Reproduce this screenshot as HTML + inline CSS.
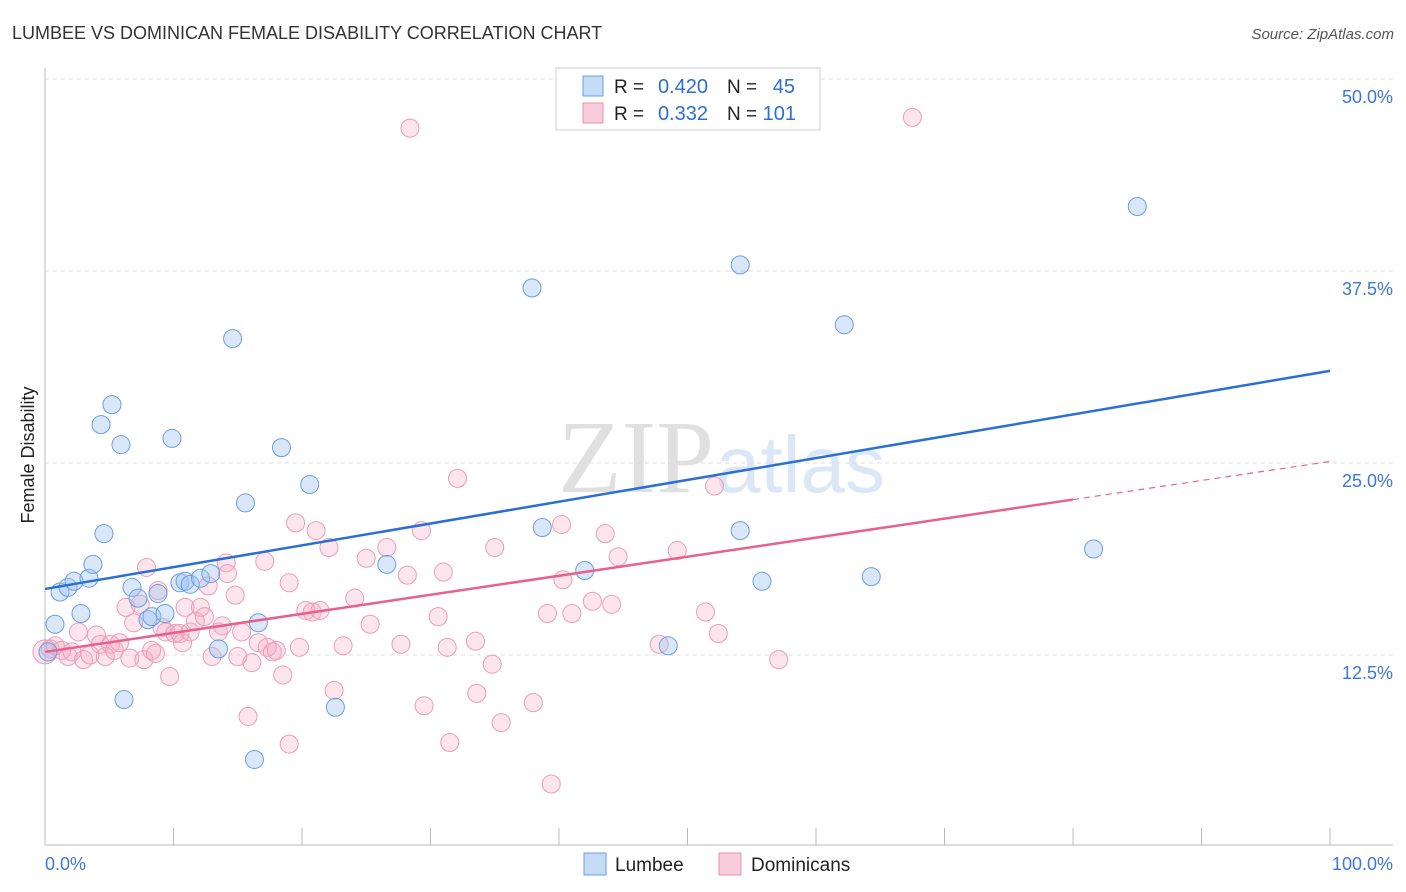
<!DOCTYPE html>
<html><head><meta charset="utf-8"><style>
body{margin:0;background:#fff;font-family:"Liberation Sans",sans-serif;}
#c{position:relative;width:1406px;height:892px;overflow:hidden}
</style></head><body>
<div id="c">
<svg id="s" width="1406" height="892" xmlns="http://www.w3.org/2000/svg">
<text x="12" y="39" font-size="18" fill="#333">LUMBEE VS DOMINICAN FEMALE DISABILITY CORRELATION CHART</text>
<text x="1394" y="39" font-size="15" fill="#555" font-style="italic" text-anchor="end">Source: ZipAtlas.com</text>
<text x="34" y="455" font-size="18" fill="#222" text-anchor="middle" transform="rotate(-90 34 455)">Female Disability</text>
<g><text x="714" y="492" font-size="104" fill="#e0e0e0" text-anchor="end" font-family="Liberation Serif,serif">ZIP</text><text x="716" y="492" font-size="80" fill="#dbe7f6" font-family="Liberation Sans,sans-serif">atlas</text></g>
<g id="grid"></g><g id="axes"></g><g id="pts"></g><g id="lines"></g>
<g>
<rect x="556" y="68" width="264" height="62" fill="#fff" stroke="#ccc"/>
<rect x="583" y="76" width="20" height="20" fill="rgba(160,195,240,.6)" stroke="#6a9fe0"/>
<rect x="583" y="103" width="20" height="20" fill="rgba(245,170,195,.6)" stroke="#e891ad"/>
<text x="614" y="93" font-size="19" fill="#222">R =</text><text x="708" y="93" font-size="20" fill="#2a6fd6" text-anchor="end">0.420</text>
<text x="727" y="93" font-size="19" fill="#222">N =</text><text x="795" y="93" font-size="20" fill="#2a6fd6" text-anchor="end">45</text>
<text x="614" y="120" font-size="19" fill="#222">R =</text><text x="708" y="120" font-size="20" fill="#2a6fd6" text-anchor="end">0.332</text>
<text x="727" y="120" font-size="19" fill="#222">N =</text><text x="796" y="120" font-size="20" fill="#2a6fd6" text-anchor="end">101</text>
</g>
<g>
<rect x="584" y="853" width="22" height="22" fill="rgba(160,195,240,.6)" stroke="#6a9fe0"/>
<text x="615" y="871" font-size="19" fill="#222">Lumbee</text>
<rect x="719" y="853" width="22" height="22" fill="rgba(245,170,195,.6)" stroke="#e891ad"/>
<text x="751" y="871" font-size="19" fill="#222">Dominicans</text>
</g>
</svg>
</div>
<script>
const yTicks=[12.5,25,37.5,50];
const yTickLabels=["12.5%","25.0%","37.5%","50.0%"];
const xTicks=[0,10,20,30,40,50,60,70,80,90,100];
const lumbeeX=[0.23,0.78,1.17,1.79,2.26,2.8,3.42,3.73,4.36,4.59,5.21,5.91,6.15,6.77,7.24,8.01,8.32,8.79,9.34,9.88,10.5,10.9,11.3,12.1,12.9,13.5,14.6,15.6,16.3,16.6,18.4,20.6,22.6,26.6,37.9,38.7,42.0,48.5,54.1,54.1,55.8,62.2,64.3,81.6,85.0];
const lumbeeY=[12.7,14.5,16.6,16.9,17.3,15.2,17.5,18.4,27.5,20.4,28.8,26.2,9.6,16.9,16.2,14.8,15.0,16.5,15.2,26.6,17.2,17.3,17.1,17.5,17.8,12.9,33.1,22.4,5.7,14.6,26.0,23.6,9.1,18.4,36.4,20.8,18.0,13.1,37.9,20.6,17.3,34.0,17.6,19.4,41.7];
const domX=[0,0.4,0.8,1.3,1.8,2.1,2.6,3.0,3.5,4.0,4.3,4.7,5.1,5.4,5.8,6.3,6.6,6.9,7.4,7.7,7.9,8.3,8.6,8.8,9.1,9.4,9.7,10.1,10.5,10.7,10.9,11.3,11.7,12.1,12.4,12.7,13.0,13.5,13.8,14.1,14.2,14.8,15.0,15.3,15.8,16.1,16.6,17.1,17.3,17.7,18.0,18.5,19.0,19.0,19.5,19.8,20.3,20.8,21.1,21.4,22.1,22.5,23.2,24.1,25.0,25.3,26.6,27.7,28.2,28.4,29.3,29.5,30.6,31.0,31.3,31.5,32.1,33.5,33.6,34.8,35.0,35.5,38.0,39.1,39.4,40.2,40.3,41.0,42.6,43.6,44.1,44.6,47.8,49.2,51.4,52.1,52.4,57.1,67.5];
const domY=[12.7,12.9,13.1,12.8,12.4,12.7,14.0,12.2,12.5,13.8,13.2,12.4,13.2,12.8,13.3,15.6,12.3,14.6,15.8,12.2,18.2,12.8,12.6,16.7,14.3,14.0,11.1,13.9,13.9,13.3,15.6,14.0,14.7,15.6,15.0,17.0,12.4,14.0,14.4,18.5,17.8,16.4,12.4,14.0,8.5,12.0,13.3,18.6,13.0,12.7,12.8,11.2,6.7,17.2,21.1,13.0,15.4,15.3,20.6,15.4,19.5,10.2,13.1,16.2,18.8,14.5,19.5,13.2,17.7,46.8,20.6,9.2,15.0,17.9,13.0,6.8,24.0,13.4,10.0,11.9,19.5,8.1,9.4,15.2,4.1,21.0,17.4,15.2,16.0,20.4,15.8,18.9,13.2,19.3,15.3,23.5,13.9,12.2,47.5];
const lumbeeTrend=[16.8,31.0];
const domTrend=[12.7,25.1];
const domSolidEnd=80;
const X=v=>45+v*12.85, Y=v=>847-v*15.36;
const NS="http://www.w3.org/2000/svg";
function mk(t,a,p){const e=document.createElementNS(NS,t);for(const k in a)e.setAttribute(k,a[k]);p.appendChild(e);return e;}
const grid=document.getElementById('grid'),axes=document.getElementById('axes'),pts=document.getElementById('pts'),lines=document.getElementById('lines');
yTicks.forEach((t,i)=>{
 const g=mk('line',{x1:45,x2:1393,y1:Y(t),y2:Y(t),stroke:'#ddd','stroke-dasharray':'4,4'},grid);
 
 
 const tx=mk('text',{x:1393,y:Y(t)+24,'font-size':18,fill:'#3b78d8','text-anchor':'end'},axes);
 tx.textContent=yTickLabels[i];
 
 
});
const ax=mk('line',{x1:45,x2:1393,y1:845,y2:845,stroke:'#bbb'},axes);


const ay=mk('line',{x1:45,x2:45,y1:68,y2:845,stroke:'#bbb'},axes);


xTicks.forEach(t=>{
 const l=mk('line',{x1:X(t),x2:X(t),y1:828,y2:845,stroke:'#bbb'},axes);
 
 
});
const xl0=mk('text',{x:45,y:870,'font-size':18,fill:'#3b78d8'},axes);xl0.textContent='0.0%';


const xl1=mk('text',{x:1393,y:870,'font-size':18,fill:'#3b78d8','text-anchor':'end'},axes);xl1.textContent='100.0%';


domX.forEach((x,i)=>{
 const c=mk('circle',{cx:X(x),cy:Y(domY[i]),r:i==0?12:9,fill:'rgba(245,170,195,.3)',stroke:'#eb9db7','stroke-width':1},pts);
 
 
});
lumbeeX.forEach((x,i)=>{
 const c=mk('circle',{cx:X(x),cy:Y(lumbeeY[i]),r:9,fill:'rgba(160,195,240,.4)',stroke:'#6a9fe0','stroke-width':1},pts);
 
 
});
const bl=mk('line',{x1:X(0),y1:Y(lumbeeTrend[0]),x2:X(100),y2:Y(lumbeeTrend[1]),stroke:'#2a6fd6','stroke-width':2.5},lines);


const dm=v=>domTrend[0]+(domTrend[1]-domTrend[0])*v/100;
const pl=mk('line',{x1:X(0),y1:Y(dm(0)),x2:X(domSolidEnd),y2:Y(dm(domSolidEnd)),stroke:'#e8618c','stroke-width':2.5},lines);


const pd=mk('line',{x1:X(domSolidEnd),y1:Y(dm(domSolidEnd)),x2:X(100),y2:Y(dm(100)),stroke:'#e8618c','stroke-width':1.2,'stroke-dasharray':'6,5'},lines);


</script>
</body></html>
